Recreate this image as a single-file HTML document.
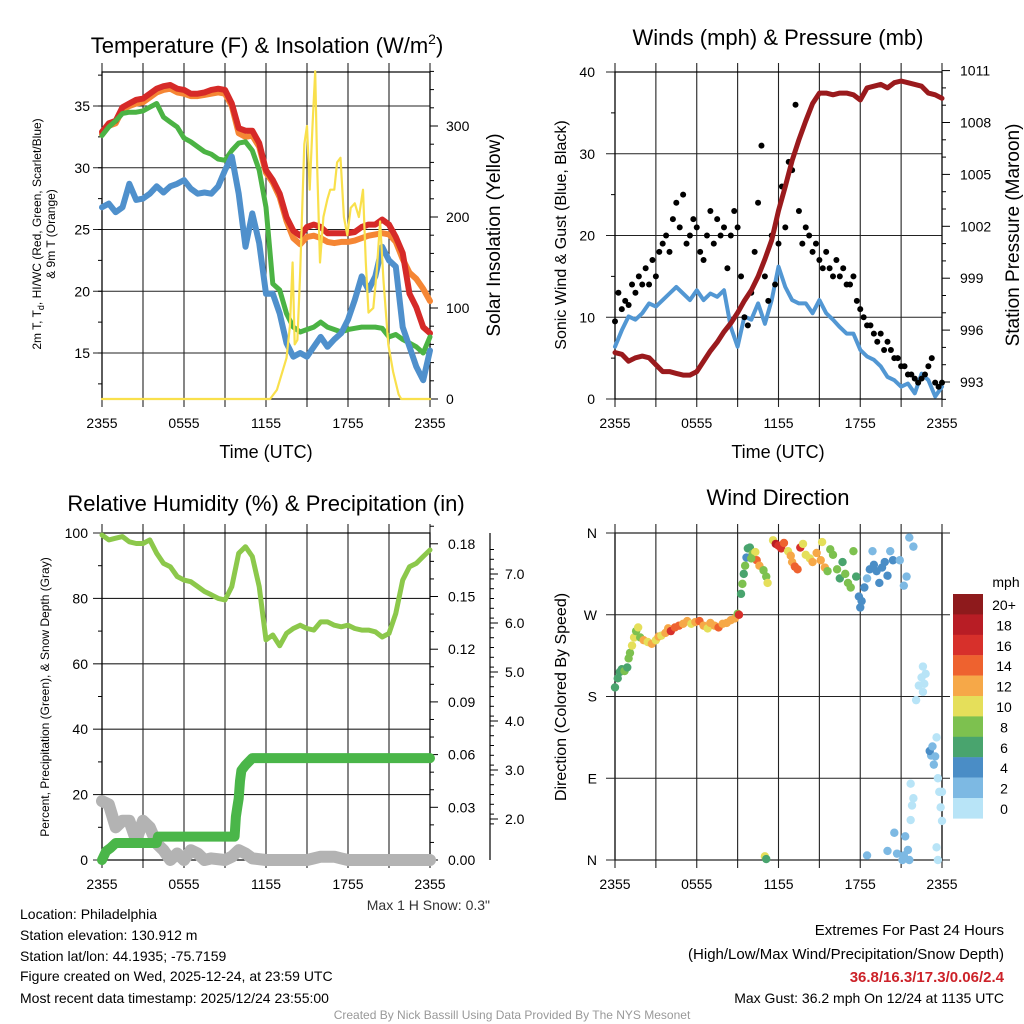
<!DOCTYPE html>
<html><head><meta charset="utf-8"><style>
html,body{margin:0;padding:0;background:#fff;}
svg{display:block;font-family:"Liberation Sans",sans-serif;}
</style></head><body>
<svg id="c" width="1024" height="1024" viewBox="0 0 1024 1024">
<g id="g1"></g>
<g id="g2"></g>
<g id="g3"></g>
<g id="g4"></g>
<g id="gt" font-size="14" fill="#000">
<text x="20" y="919">Location: Philadelphia</text>
<text x="20" y="940">Station elevation: 130.912 m</text>
<text x="20" y="961">Station lat/lon: 44.1935; -75.7159</text>
<text x="20" y="981">Figure created on Wed, 2025-12-24, at 23:59 UTC</text>
<text x="20" y="1003">Most recent data timestamp: 2025/12/24 23:55:00</text>
<text x="1004" y="935" text-anchor="end" font-size="15">Extremes For Past 24 Hours</text>
<text x="1004" y="959" text-anchor="end" font-size="15">(High/Low/Max Wind/Precipitation/Snow Depth)</text>
<text x="1004" y="982" text-anchor="end" font-size="15" font-weight="bold" fill="#cc2229">36.8/16.3/17.3/0.06/2.4</text>
<text x="1004" y="1003" text-anchor="end">Max Gust: 36.2 mph On 12/24 at 1135 UTC</text>
<text x="490" y="910" text-anchor="end" fill="#333">Max 1 H Snow: 0.3"</text>
<text x="512" y="1019" text-anchor="middle" font-size="12" fill="#999">Created By Nick Bassill Using Data Provided By The NYS Mesonet</text>
</g>
</svg>
<script>
// ---------- DATA ----------
const hours = [0,0.5,1,1.5,2,2.5,3,3.5,4,4.5,5,5.5,6,6.5,7,7.5,8,8.5,9,9.5,10,10.5,11,11.5,12,12.5,13,13.5,14,14.5,15,15.5,16,16.5,17,17.5,18,18.5,19,19.5,20,20.5,21,21.5,22,22.5,23,23.5,24];
const tempRed = [32.9,33.6,33.8,34.9,35.2,35.5,35.6,36.0,36.4,36.6,36.7,36.4,36.3,36.0,36.0,36.1,36.3,36.4,36.3,35.2,33.2,33.0,33.0,32.0,29.8,29.0,27.9,26.0,24.9,24.5,25.2,25.4,25.2,24.7,24.7,24.7,24.7,24.8,25.2,25.4,25.4,25.8,25.4,24.4,23.1,19.8,18.7,17.1,16.6];
const tempOrange = [32.7,33.4,33.6,34.7,35.0,35.2,35.3,35.7,36.1,36.3,36.4,36.1,36.0,35.8,35.8,35.9,36.0,36.1,36.0,35.0,32.8,32.5,32.6,31.7,29.6,28.8,27.6,25.7,24.3,23.8,24.4,24.5,24.3,24.0,23.9,24.0,24.0,24.1,24.3,24.5,24.6,24.7,24.6,24.0,22.6,21.5,21.0,20.2,19.2];
const tempGreen = [32.6,33.3,33.8,34.4,34.5,34.5,34.6,34.9,35.2,34.1,33.7,33.3,32.4,32.1,31.7,31.3,31.1,30.7,30.6,31.4,32.0,32.1,31.4,29.8,26.8,20.6,20.1,18.2,17.1,16.7,16.9,17.1,17.5,17.1,16.9,16.7,16.9,17.0,17.1,17.1,17.1,17.0,16.3,16.5,16.1,15.8,15.5,15.0,16.3];
const tempBlue = [26.8,27.1,26.4,26.8,28.7,27.4,27.5,27.9,28.5,28.0,28.5,28.7,29.0,28.3,27.9,28.0,27.9,28.5,29.8,30.9,27.9,23.6,26.3,23.9,19.8,19.8,18.2,15.8,14.7,15.0,14.7,15.5,16.3,15.5,16.1,16.6,17.7,19.3,21.2,20.1,21.2,23.6,22.5,22.0,17.1,15.5,13.9,12.8,15.2];
const solarT = [0,12.3,12.8,13.5,13.75,13.95,14.1,14.3,14.5,14.8,15.0,15.2,15.4,15.6,15.75,15.95,16.2,16.5,16.7,17.0,17.2,17.45,17.7,17.95,18.2,18.5,18.8,19.1,19.3,19.5,19.85,20.1,20.35,20.6,20.95,21.3,21.7,21.9,24];
const solarW = [0,0,10,45,80,150,60,65,140,280,300,230,300,360,250,150,200,220,230,230,260,265,200,180,210,215,200,230,150,95,100,140,195,130,60,30,5,0,0];
const windSpeed = [6.4,8.4,10.1,9.7,10.5,11.7,11.3,12.1,12.9,13.7,12.9,12.1,13.3,12.1,12.9,12.5,13.3,8.8,6.4,10.1,9.7,11.7,9.2,12.1,16.2,13.7,12.1,11.7,11.7,10.5,12.1,10.5,9.7,8.8,8.0,8.0,6.0,5.2,4.8,4.0,2.7,2.3,1.5,1.9,0.7,3.1,2.3,0.3,1.5];
const gustVals = [9.5,13,11,12,11.5,14,13,15,14,16,14,17,15,18,19,20,18,22,24,21,25,19,20,22,21,18,17,20,23,19,22,20,21,16,20,23,21,15,10,9,13,18,24,31,15,12,20,14,19,26,21,29,28,36,23,19,21,20,18,19,17,16,18,16,15,17,15,16,14,14,15,12,11,10,9,9,8,7,8,6,7,6,5,5,4,4,3,3,2.5,2,2.5,3,4,5,2,1.5,2];
const pressure = [994.7,994.6,994.2,994.4,994.5,994.4,994.0,993.6,993.6,993.5,993.4,993.4,993.6,994.2,994.8,995.3,995.9,996.4,997.0,997.7,998.3,999.1,1000.1,1001.2,1002.9,1004.3,1005.8,1007.0,1008.1,1009.1,1009.7,1009.7,1009.6,1009.7,1009.7,1009.6,1009.3,1010.0,1010.1,1010.2,1010.0,1010.3,1010.4,1010.3,1010.2,1010.1,1009.7,1009.6,1009.4];
const rh = [99.4,97.9,98.4,98.9,97.3,96.8,96.8,97.9,93.8,90.7,89.7,86.7,85.6,85.1,83.6,82.1,81.1,80.0,79.5,83.6,93.8,95.8,92.8,83.6,67.3,68.8,65.5,69.3,70.8,71.8,70.8,70.3,72.8,72.8,71.8,71.3,71.8,70.8,70.3,70.3,69.8,68.2,69.3,75.4,85.6,89.7,90.7,92.8,94.8];
const precipT = [0,0.3,0.6,1,4,4.1,9.7,9.8,9.9,10.0,10.1,10.2,10.5,11,24];
const precipV = [0,0.005,0.0067,0.0097,0.0097,0.0133,0.0133,0.0247,0.03,0.035,0.045,0.051,0.054,0.058,0.058];
const snowT = [0,0.5,1,1.5,2,2.5,3,3.5,4,4.5,5,5.5,6,6.5,7,7.5,8,9,9.5,10,10.5,11,12,15,15.5,16,17,17.5,18,24];
const snowV = [18,17,10,12,12,6,12,10,5,3,0,2,0,3,2,0,0.5,0,1,3,2,0.5,0,0,0.5,1,1,0.5,0,0];
const dirT = [0.0,0.2,0.35,0.5,0.7,0.9,1.0,1.1,1.25,1.4,1.55,1.7,1.85,2.1,2.4,2.7,3.0,3.2,3.4,3.7,3.9,4.1,4.4,4.7,5.0,5.3,5.6,5.9,6.2,6.5,6.8,7.0,7.3,7.6,7.9,8.2,8.5,8.8,9.0,9.1,9.25,9.35,9.45,9.55,9.65,9.75,9.9,10.1,10.3,10.4,10.6,10.9,11.1,11.2,10.0,11.0,11.1,11.6,11.8,12.0,12.2,12.4,12.7,12.9,13.0,13.2,13.4,13.6,13.8,14.0,14.3,14.5,14.8,15.1,15.2,15.4,15.6,15.8,16.0,16.3,16.5,16.7,16.9,17.1,17.3,17.5,17.7,17.9,18.0,18.1,18.3,18.5,18.7,19.0,19.2,19.4,19.6,19.8,20.0,20.2,20.4,18.9,20.9,21.2,21.4,21.6,21.9,18.5,20.0,20.5,20.7,21.1,21.5,21.3,21.7,21.8,21.9,21.7,22.1,22.3,22.5,22.6,22.8,22.7,22.6,23.4,23.2,23.1,23.3,23.6,23.5,23.7,23.8,24.0,23.9,24.0,23.6,23.7,21.6,21.2];
const dirDeg = [190,200,207,210,208,212,222,228,236,245,252,256,245,242,240,238,242,246,247,250,255,252,256,258,260,263,260,262,263,258,255,261,258,256,260,261,264,266,271,270,293,304,315,324,333,343,344,337,339,330,324,319,312,305,332,4,1,352,348,346,343,349,340,335,328,323,320,344,348,336,332,328,338,330,350,322,318,342,336,320,310,328,315,305,300,340,312,290,278,285,300,310,320,325,318,305,322,328,313,340,330,340,330,302,312,355,345,5,10,30,7,0,11,26,44,60,68,84,176,192,201,213,205,194,185,105,115,120,125,135,114,90,75,43,58,75,14,0,0,5];
const dirSpd = [7,6,6,7,8,7,8,9,10,10,9,10,8,12,11,12,10,12,10,12,12,16,14,15,12,13,10,12,14,12,11,13,12,15,13,12,12,12,8,16,6,8,6,8,5,7,6,8,10,14,12,8,9,10,8,10,7,10,18,16,17,15,11,12,12,14,15,16,11,11,10,12,12,12,10,12,8,8,9,8,6,7,8,8,8,8,6,4,4,4,4,3,4,4,4,4,4,4,4,3,4,3,2,2,2,2,2,2,2,2,2,2,2,3,1,1,1,1,0,0,0,0,0,0,0,2,3,4,2,1,3,0,1,1,1,0,0,1,2,3];
const cbLabels = ["20+","18","16","14","12","10","8","6","4","2","0"];
const cbColors = ["#8e1a1c","#b81d25","#d7302b","#ee622f","#f6a848","#e5df5a","#7dc14f","#49a46e","#4a8dc6","#7db9e3","#b8e4f7"];

// ---------- HELPERS ----------
const NS = "http://www.w3.org/2000/svg";
function mk(tag, attrs, parent){const e=document.createElementNS(NS,tag);for(const k in attrs)e.setAttribute(k,attrs[k]);parent.appendChild(e);return e;}
function txt(parent,x,y,s,attrs){const t=mk('text',Object.assign({x:x,y:y},attrs||{}),parent);t.textContent=s;return t;}
function poly(parent,xs,ys,stroke,w,name){
  let d='';for(let i=0;i<xs.length;i++)d+=(i?'L':'M')+xs[i].toFixed(1)+' '+ys[i].toFixed(1);
  const p=mk('path',{d:d,fill:'none',stroke:stroke,'stroke-width':w,'stroke-linejoin':'round','stroke-linecap':'round'},parent);
  
  
  return p;
}
const xlabs=["2355","0555","1155","1755","2355"];
function frame(g,x0,x1,y0,y1,hlines,name){
  for(let i=0;i<=8;i++){const x=x0+(x1-x0)*i/8;
    const l=mk('line',{x1:x,x2:x,y1:y0-9,y2:y1+8,stroke:'#222','stroke-width':1.1},g);
    
    }
  hlines.forEach(y=>{const l=mk('line',{x1:x0-9,x2:x1,y1:y,y2:y,stroke:'#222','stroke-width':1.1},g);
    
    });
  const r=mk('rect',{x:x0,y:y0,width:x1-x0,height:y1-y0,fill:'none',stroke:'#000','stroke-width':1.2},g);
  
  
  for(let i=0;i<5;i++){const t=txt(g,x0+(x1-x0)*i/4,y1+29,xlabs[i],{'text-anchor':'middle','font-size':14});
    
    }
}

// ---------- PANEL 1 ----------
(function(){
const g=document.getElementById('g1');
const x0=102,x1=430,y0=72,y1=399;
const X=h=>x0+h*(x1-x0)/24, Y=t=>353-(t-15)*12.35, S=w=>399-w*0.91;
frame(g,x0,x1,y0,y1,[35,30,25,20,15].map(Y),'temperature');
[35,30,25,20,15].forEach(v=>{const t=txt(g,x0-12,Y(v)+5,String(v),{'text-anchor':'end','font-size':14});
  
  });
for(let v=12.5;v<38;v+=2.5){mk('line',{x1:x0-4,x2:x0,y1:Y(v),y2:Y(v),stroke:'#000'},g);}
for(let w=0;w<=360;w+=20){mk('line',{x1:x1,x2:x1+(w%100?4:8),y1:S(w),y2:S(w),stroke:'#000'},g);}
[0,100,200,300].forEach(v=>{const t=txt(g,x1+16,S(v)+5,String(v),{'font-size':14});
  
  });
poly(g,hours.map(X),tempOrange.map(Y),'#f58634',6,'temp-9m-orange-line');
poly(g,hours.map(X),tempRed.map(Y),'#d62a28',6,'temp-2m-red-line');
poly(g,hours.map(X),tempGreen.map(Y),'#4bb344',5,'green-line');
poly(g,hours.map(X),tempBlue.map(Y),'#4f90cc',6,'dewpoint-blue-line');
poly(g,solarT.map(X),solarW.map(S),'#f9e04c',2.2,'solar-yellow-line');
const t1=txt(g,267,53,'Temperature (F) & Insolation (W/m',{'text-anchor':'middle','font-size':22});
const sp=mk('tspan',{dy:-9,'font-size':14},t1);sp.textContent='2';
const sp2=mk('tspan',{dy:9},t1);sp2.textContent=')';


const xl=txt(g,266,458,'Time (UTC)',{'text-anchor':'middle','font-size':18});


const yl=txt(g,0,0,'2m T, T',{'text-anchor':'middle','font-size':12,transform:'translate(41,234) rotate(-90)'});
const sb=mk('tspan',{'font-size':9,dy:3},yl);sb.textContent='d';
const sb2=mk('tspan',{dy:-3},yl);sb2.textContent=', HI/WC (Red, Green, Scarlet/Blue)';


const yl2=txt(g,0,0,'& 9m T (Orange)',{'text-anchor':'middle','font-size':12,transform:'translate(55,234) rotate(-90)'});


const yr=txt(g,0,0,'Solar Insolation (Yellow)',{'text-anchor':'middle','font-size':19,transform:'translate(500,235) rotate(-90)'});


})();

// ---------- PANEL 2 ----------
(function(){
const g=document.getElementById('g2');
const x0=615,x1=942,y0=72,y1=399;
const X=h=>x0+h*(x1-x0)/24, W=v=>399-v*8.175, P=p=>382-(p-993)*17.3;
frame(g,x0,x1,y0,y1,[0,10,20,30,40].map(W),'winds');
[0,10,20,30,40].forEach(v=>{const t=txt(g,x0-20,W(v)+5,String(v),{'text-anchor':'end','font-size':14});
  
  });
for(let v=5;v<40;v+=10){mk('line',{x1:x0-4,x2:x0,y1:W(v),y2:W(v),stroke:'#000'},g);}
for(let p=992;p<=1011;p++){mk('line',{x1:x1,x2:x1+(p%3===0?8:4),y1:P(p),y2:P(p),stroke:'#000'},g);}
[993,996,999,1002,1005,1008,1011].forEach(v=>{const t=txt(g,x1+18,P(v)+5,String(v),{'font-size':14});
  
  });
poly(g,hours.map(X),windSpeed.map(W),'#5297d3',4,'sonic-wind-line');
gustVals.forEach((v,i)=>{const c=mk('circle',{cx:X(i*0.25),cy:W(v),r:3,fill:'#000'},g);
  
  });
poly(g,hours.map(X),pressure.map(P),'#9a1a1d',5,'pressure-line');
const t=txt(g,778,45,'Winds (mph) & Pressure (mb)',{'text-anchor':'middle','font-size':22});


const xl=txt(g,778,458,'Time (UTC)',{'text-anchor':'middle','font-size':18});


const yl=txt(g,0,0,'Sonic Wind & Gust (Blue, Black)',{'text-anchor':'middle','font-size':16,transform:'translate(566,235) rotate(-90)'});


const yr=txt(g,0,0,'Station Pressure (Maroon)',{'text-anchor':'middle','font-size':19,transform:'translate(1019,235) rotate(-90)'});


})();

// ---------- PANEL 3 ----------
(function(){
const g=document.getElementById('g3');
const x0=102,x1=430,y0=533,y1=860;
const X=h=>x0+h*(x1-x0)/24, R=v=>860-v*3.27, Q=p=>860-p/0.03*52.7, SN=s=>819-(s-2)*49;
frame(g,x0,x1,y0,y1,[100,80,60,40,20,0].map(R),'humidity');
[100,80,60,40,20,0].forEach(v=>{const t=txt(g,x0-14,R(v)+5,String(v),{'text-anchor':'end','font-size':14});
  
  });
for(let v=10;v<100;v+=20){mk('line',{x1:x0-4,x2:x0,y1:R(v),y2:R(v),stroke:'#000'},g);}
for(let i=0;i<=19;i++){const p=i*0.01;mk('line',{x1:x1,x2:x1+(i%3===0?8:4),y1:Q(p),y2:Q(p),stroke:'#000'},g);}
['0.00','0.03','0.06','0.09','0.12','0.15','0.18'].forEach((s,i)=>{const t=txt(g,x1+18,Q(i*0.03)+5,s,{'font-size':14});
  
  });
mk('line',{x1:490,x2:490,y1:533,y2:860,stroke:'#000','stroke-width':1.2},g);
for(let s=1.9;s<=7.7;s+=0.2){const y=SN(s);if(y<535||y>860)continue;mk('line',{x1:490,x2:494,y1:y,y2:y,stroke:'#000'},g);}
['2.0','3.0','4.0','5.0','6.0','7.0'].forEach((s,i)=>{const y=SN(2+i);mk('line',{x1:490,x2:498,y1:y,y2:y,stroke:'#000'},g);
  const t=txt(g,505,y+5,s,{'font-size':14});
  
  });
poly(g,snowT.map(X),snowV.map(R),'#b3b3b3',12,'snow-depth-line');
poly(g,precipT.map(X),precipV.map(Q),'#4ab649',10,'precip-line');
poly(g,hours.map(X),rh.map(R),'#8cc84b',5,'rh-line');
const t=txt(g,266,511,'Relative Humidity (%) & Precipitation (in)',{'text-anchor':'middle','font-size':22});


const yl=txt(g,0,0,'Percent, Precipitation (Green), & Snow Depth (Gray)',{'text-anchor':'middle','font-size':12,transform:'translate(49,697) rotate(-90)'});


})();

// ---------- PANEL 4 ----------
(function(){
const g=document.getElementById('g4');
const x0=615,x1=942,y0=533,y1=860;
const X=h=>x0+h*(x1-x0)/24, D=d=>860-d*(327/360);
frame(g,x0,x1,y0,y1,[],'direction');
['N','W','S','E','N'].forEach((s,i)=>{const y=D(360-i*90);
  mk('line',{x1:x0-9,x2:950,y1:y,y2:y,stroke:'#222','stroke-width':1.1},g);
  const t=txt(g,x0-18,y+5,s,{'text-anchor':'end','font-size':14});
  
  });
dirT.forEach((h,i)=>{const b=Math.max(0,Math.min(10,Math.floor(dirSpd[i]/2)));
  const c=mk('circle',{cx:X(h),cy:D(dirDeg[i]),r:4.2,fill:cbColors[10-b]},g);
  
  });
cbColors.forEach((col,i)=>{const r=mk('rect',{x:953,y:594+i*20.4,width:30,height:20.6,fill:col},g);
  
  
  const t=txt(g,1004,594+i*20.4+16,cbLabels[i],{'text-anchor':'middle','font-size':14});
  
  });
const u=txt(g,1006,587,'mph',{'text-anchor':'middle','font-size':14});


const t=txt(g,778,505,'Wind Direction',{'text-anchor':'middle','font-size':22});


const yl=txt(g,0,0,'Direction (Colored By Speed)',{'text-anchor':'middle','font-size':16,transform:'translate(566,697) rotate(-90)'});


})();
</script>
</body></html>
